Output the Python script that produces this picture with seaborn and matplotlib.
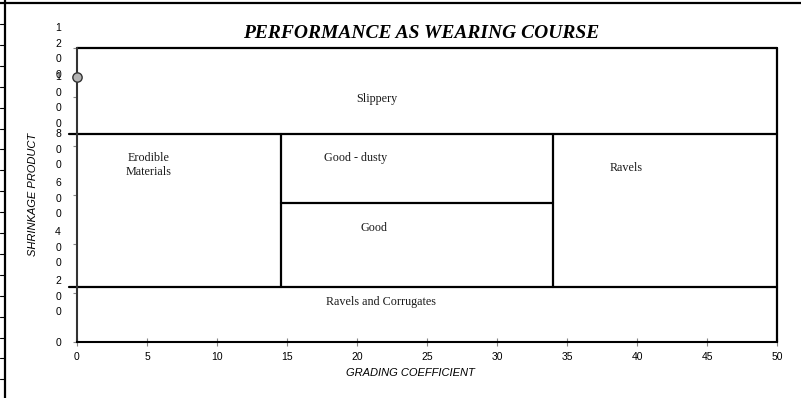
import matplotlib.lines as mlines
import matplotlib.pyplot as plt
import numpy as np
import pandas as pd
import seaborn as sns

# axis extent of the chart
x_max = 50
y_max = 1200

# zone boundaries
grading_breaks = [14.6, 34.0]
shrinkage_breaks = [225, 565, 850]

# the single plotted point
point_x = [0]
point_y = [1082]

zone_names = [
    "Slippery",
    "Erodible\nMaterials",
    "Good - dusty",
    "Good",
    "Ravels",
    "Ravels and Corrugates",
]

x_ticks = list(range(0, 51, 5))
y_ticks = list(range(0, 1201, 200))


def build_segments() -> pd.DataFrame:
    g1, g2 = grading_breaks
    s_low, s_mid, s_high = shrinkage_breaks
    lead = -0.55  # the two long dividers start just left of the axis
    segs = [
        ("top", [0, x_max], [y_max, y_max]),
        ("right", [x_max, x_max], [0, y_max]),
        ("upper", [lead, x_max], [s_high, s_high]),
        ("lower", [lead, x_max], [s_low, s_low]),
        ("left_split", [g1, g1], [s_low, s_high]),
        ("right_split", [g2, g2], [s_low, s_high]),
        ("mid", [g1, g2], [s_mid, s_mid]),
    ]
    rows = []
    for name, xs, ys in segs:
        for x, y in zip(xs, ys):
            rows.append({"seg": name, "x": x, "y": y})
    return pd.DataFrame(rows)


def plot(filename: str):
    sns.set_theme(style="white")
    plt.rcParams["font.family"] = ["Liberation Sans", "DejaVu Sans"]
    plt.rcParams["text.color"] = "black"
    plt.rcParams["axes.labelcolor"] = "black"
    plt.rcParams["xtick.labelcolor"] = "black"
    plt.rcParams["ytick.labelcolor"] = "black"

    fig = plt.figure(figsize=(8.01, 3.98), dpi=100)
    ax = fig.add_axes([77 / 801, 56 / 398, 700 / 801, 294.3 / 398])

    df = build_segments()
    sns.lineplot(
        data=df,
        x="x",
        y="y",
        units="seg",
        estimator=None,
        sort=False,
        color="black",
        linewidth=1.6,
        ax=ax,
    )
    for line in ax.lines:
        line.set_clip_on(False)

    sns.scatterplot(
        x=point_x,
        y=point_y,
        s=45,
        color="#b4b4b4",
        edgecolor="#333333",
        linewidth=1.0,
        zorder=5,
        clip_on=False,
        ax=ax,
    )

    # zone labels
    label_pos = [(21.4, 990), (5.1, 722), (19.9, 752), (21.2, 465), (39.2, 710), (21.7, 163)]
    for name, (lx, ly) in zip(zone_names, label_pos):
        ax.text(lx, ly, name, ha="center", va="center", fontsize=8.7,
                family="Liberation Serif", color="#1a1a1a", linespacing=1.2)

    ax.set_xlim(0, x_max)
    ax.set_ylim(0, y_max)
    ax.set_xticks(x_ticks)
    ax.set_xticklabels([str(v) for v in x_ticks])
    ax.set_yticks(y_ticks)
    ax.set_yticklabels(["\n".join(str(v)) for v in y_ticks], linespacing=1.7)

    ax.tick_params(axis="y", direction="out", length=3, width=0.8, color="#888888",
                   pad=8.6, labelsize=7.5, left=True)
    ax.tick_params(axis="x", direction="inout", length=6, width=0.8, color="#888888",
                   pad=4, labelsize=7.5, bottom=True)

    for side in ["top", "right"]:
        ax.spines[side].set_visible(False)
    ax.spines["left"].set_color("#333333")
    ax.spines["left"].set_linewidth(1.5)
    ax.spines["bottom"].set_color("black")
    ax.spines["bottom"].set_linewidth(1.5)

    ax.set_xlabel("GRADING COEFFICIENT", fontsize=8, fontstyle="italic")
    ax.set_ylabel("SHRINKAGE PRODUCT", fontsize=8, fontstyle="italic")
    ax.xaxis.set_label_coords(0.476, -0.088)
    ax.yaxis.set_label_coords(-0.055, 0.5)

    ax.set_title("PERFORMANCE AS WEARING COURSE", fontsize=14, fontweight="bold",
                 fontstyle="italic", family="Liberation Serif", pad=7, x=0.491,
                 color="black")

    # sheet frame around the chart
    fig.add_artist(mlines.Line2D([0, 1], [1 - 3 / 398] * 2, transform=fig.transFigure,
                                 color="black", lw=1.6))
    fig.add_artist(mlines.Line2D([5 / 801] * 2, [0, 1], transform=fig.transFigure,
                                 color="black", lw=1.6))
    for yy in np.arange(24, 390, 20.9):
        fig.add_artist(mlines.Line2D([0, 5 / 801], [1 - yy / 398] * 2,
                                     transform=fig.transFigure, color="black", lw=0.8))

    print(f"Saving to {filename}")
    fig.savefig(filename, dpi=100)


def main():
    plot("out.png")


main()
